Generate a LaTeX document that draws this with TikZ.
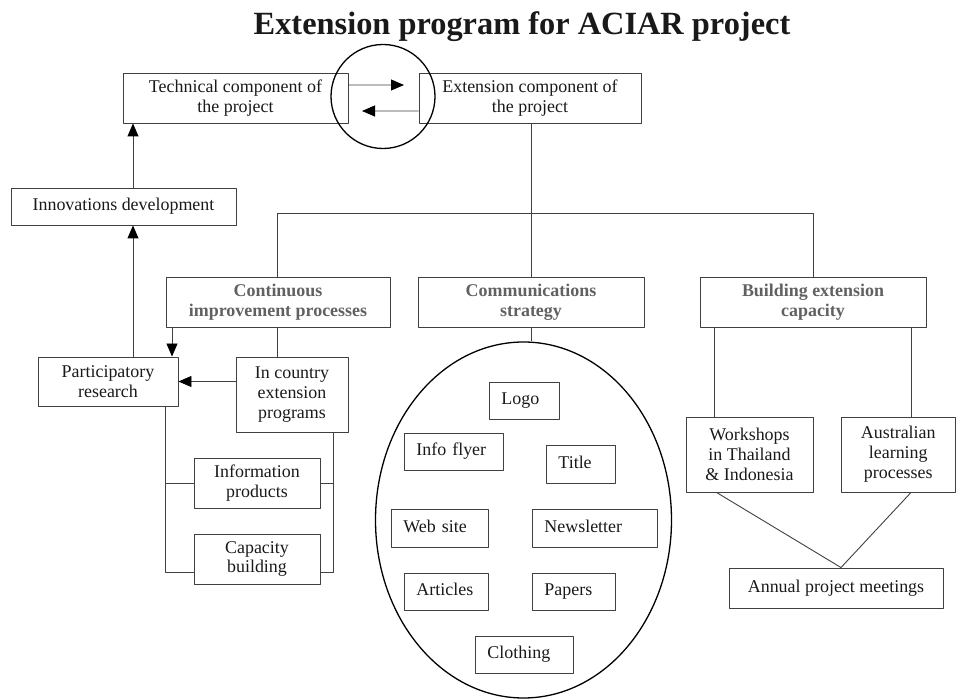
\documentclass[tikz,border=0pt]{standalone}
\usepackage{fontspec}
\setmainfont{Liberation Serif}
\usetikzlibrary{arrows.meta,shapes.geometric}
\tikzset{
  box/.style={draw=black!75,line width=0.9bp,font=\fontsize{18}{20}\selectfont,text=black!90,align=center,inner sep=0pt},
  head/.style={box,font=\fontsize{18}{20}\selectfont\bfseries,text=black!62},
  item/.style={box,anchor=north west,align=left,text width=#1,inner xsep=12bp,minimum height=37bp,text height=12bp,text depth=4bp},
  wire/.style={draw=black!75,line width=0.9bp},
  arr/.style={wire,-{Triangle[length=13bp,width=11bp,black]}},
}
\begin{document}
\begin{tikzpicture}[line join=bevel]
\useasboundingbox (0bp,0bp) rectangle (956bp,699bp);
%%
\node (title) at (522bp,672bp) [font=\fontsize{32.5}{36}\selectfont\bfseries,text=black!90] {Extension program for ACIAR project};
%
\node (tech_comp) at (235.5bp,601bp) [box,minimum width=225bp,minimum height=50bp] {Technical component of\\the project};
  \node (ext_comp) at (530bp,601bp) [box,minimum width=222bp,minimum height=50bp] {Extension component of\\the project};
  \node (innov_dev) at (123.5bp,492.5bp) [box,minimum width=225bp,minimum height=37bp] {Innovations development};
  \draw [line width=1.3bp] (383bp,602.5bp) circle (52bp);
  \coordinate (tip_fwd) at (404bp,614bp);
  \coordinate (tip_back) at (362bp,588bp);
  \draw [arr] ([yshift=13bp]tech_comp.east) -- (tip_fwd);
  \draw [arr] ([yshift=-13bp]ext_comp.west) -- (tip_back);
%
\node (cont_proc) at (278bp,397bp) [head,minimum width=224bp,minimum height=50bp] {Continuous\\improvement processes};
  \node (comm_strat) at (531bp,397bp) [head,minimum width=226bp,minimum height=50bp] {Communications\\strategy};
  \node (build_cap) at (813bp,397bp) [head,minimum width=226bp,minimum height=50bp] {Building extension\\capacity};
  \coordinate (bar_l) at (277bp,486bp);
  \coordinate (bar_m) at (531bp,486bp);
  \coordinate (bar_r) at (813bp,486bp);
  \draw [wire] (ext_comp.south -| bar_m) -- (bar_m);
  \draw [wire] (cont_proc.north -| bar_l) -- (bar_l) -- (bar_r) -- (build_cap.north -| bar_r);
  \draw [wire] (bar_m) -- (comm_strat.north -| bar_m);
%
\node (part_res) at (108bp,317.5bp) [box,minimum width=140bp,minimum height=49bp] {Participatory\\research};
  \node (in_country) at (292bp,304.5bp) [box,minimum width=112bp,minimum height=75bp] {In country\\extension\\programs};
  \node (info_prod) at (257bp,216bp) [box,minimum width=126bp,minimum height=50bp] {Information\\products};
  \node (cap_build) at (257bp,140bp) [box,minimum width=126bp,minimum height=50bp] {Capacity\\building};
  \coordinate (up_x) at (133bp,0bp);
  \coordinate (down_x) at (172bp,0bp);
  \coordinate (left_x) at (165bp,127bp);
  \coordinate (right_x) at (333bp,127bp);
  \draw [arr] (innov_dev.north -| up_x) -- (tech_comp.south -| up_x);
  \draw [arr] (part_res.north -| up_x) -- (innov_dev.south -| up_x);
  \draw [arr] (cont_proc.south -| down_x) -- (part_res.north -| down_x);
  \draw [wire] (cont_proc.south -| bar_l) -- (in_country.north -| bar_l);
  \draw [arr] (in_country.west |- part_res.east) -- (part_res.east);
  \draw [wire] (part_res.south -| left_x) -- (left_x) -- (cap_build.west |- left_x);
  \draw [wire] (in_country.south -| right_x) -- (right_x) -- (cap_build.east |- right_x);
  \draw [wire] (info_prod.west -| left_x) -- (info_prod.west);
  \draw [wire] (info_prod.east -| right_x) -- (info_prod.east);
%
\node (media) at (523.5bp,179bp) [draw,line width=1.3bp,ellipse,minimum width=296bp,minimum height=356bp,inner sep=0pt] {};
  \draw [wire] (comm_strat.south) -- (comm_strat.south |- media.north);
  \node (logo) at (489bp,317bp) [item=46bp] {Logo};
  \node (flyer) at (404bp,266bp) [item=75bp] {Info flyer};
  \node (title_box) at (546bp,254bp) [item=45bp,minimum height=38bp] {Title};
  \node (web_site) at (391bp,190bp) [item=73bp,minimum height=38bp] {Web site};
  \node (newsletter) at (532bp,190bp) [item=101bp,minimum height=38bp] {Newsletter};
  \node (articles) at (404bp,126bp) [item=60bp] {Articles};
  \node (papers) at (532bp,126bp) [item=59bp] {Papers};
  \node (clothing) at (475bp,63bp) [item=74bp] {Clothing};
%
\node (workshops) at (749.5bp,244.5bp) [box,minimum width=127bp,minimum height=75bp] {Workshops\\in Thailand\\\& Indonesia};
  \node (aus_learn) at (898.25bp,244.5bp) [box,minimum width=114.5bp,minimum height=75bp] {Australian\\learning\\processes};
  \node (annual) at (836bp,111bp) [box,minimum width=214bp,minimum height=40bp] {Annual project meetings};
  \coordinate (ws_x) at (714bp,0bp);
  \coordinate (al_x) at (911bp,0bp);
  \coordinate (meet) at ([xshift=5bp]annual.north);
  \draw [wire] (build_cap.south -| ws_x) -- (workshops.north -| ws_x);
  \draw [wire] (build_cap.south -| al_x) -- (aus_learn.north -| al_x);
  \draw [wire] ([xshift=-33bp]workshops.south) -- (meet) -- (aus_learn.south -| al_x);
%
\end{tikzpicture}
\end{document}
